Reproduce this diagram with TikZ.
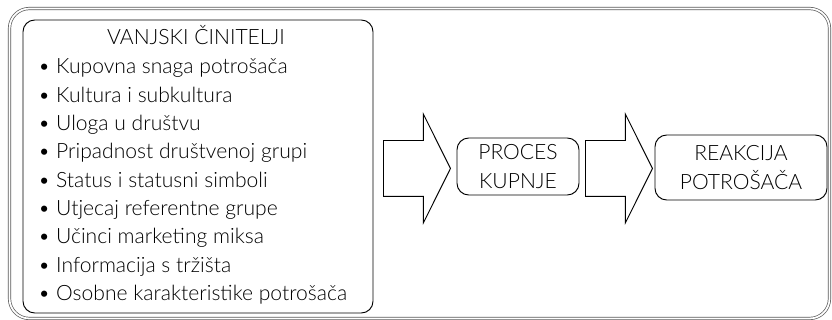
\documentclass[tikz,border=0pt]{standalone}
\usepackage{fontspec}
\setmainfont{Lato Light}
\usetikzlibrary{shapes.arrows}

\begin{document}
\begin{tikzpicture}[x=0.03cm,y=-0.03cm,
	txt/.style={font=\fontsize{18}{24.1}\selectfont},
	box/.style={draw,line width=0.8pt,rounded corners=10pt,inner sep=0pt,txt,align=center},
	strelica/.style={single arrow,draw,line width=0.8pt,inner xsep=0pt,inner ysep=0.825cm,
		minimum height=2.01cm,single arrow head extend=0.795cm,single arrow tip angle=127}]
\useasboundingbox (0,0) rectangle (832,320);
% vanjski okvir
\draw[gray!70!black,line width=0.6pt,double,double distance=1.5pt,rounded corners=17pt]
	(9.5,8.5) rectangle (829.5,318.5);
\node[box,minimum width=10.5cm,minimum height=8.79cm] at (198,166.5) (vanjski) {};
\node[txt,anchor=base] at (196,45) (naslov) {VANJSKI ČINITELJI};
\foreach \t [count=\i] in {Kupovna snaga potrošača,Kultura i subkultura,Uloga u društvu,
	Pripadnost društvenoj grupi,Status i statusni simboli,Utjecaj referentne grupe,
	Učinci marketing miksa,Informacija s tržišta,Osobne karakteristike potrošača}
{
	\node[txt,anchor=base west,inner sep=0pt] at (38,45.7+28.3*\i) (s\i) {\textbullet\ \t};
}
\node[strelica,anchor=tail] at (383,168.5) (a1) {};
\node[box,minimum width=3.66cm,minimum height=1.71cm] at (518,166.5) (proces) {PROCES\\KUPNJE};
\node[strelica,anchor=tail] at (585,168.5) (a2) {};
\node[box,minimum width=5.16cm,minimum height=1.95cm] at (741,167.5) (reakcija) {REAKCIJA\\POTROŠAČA};
\end{tikzpicture}
\end{document}
